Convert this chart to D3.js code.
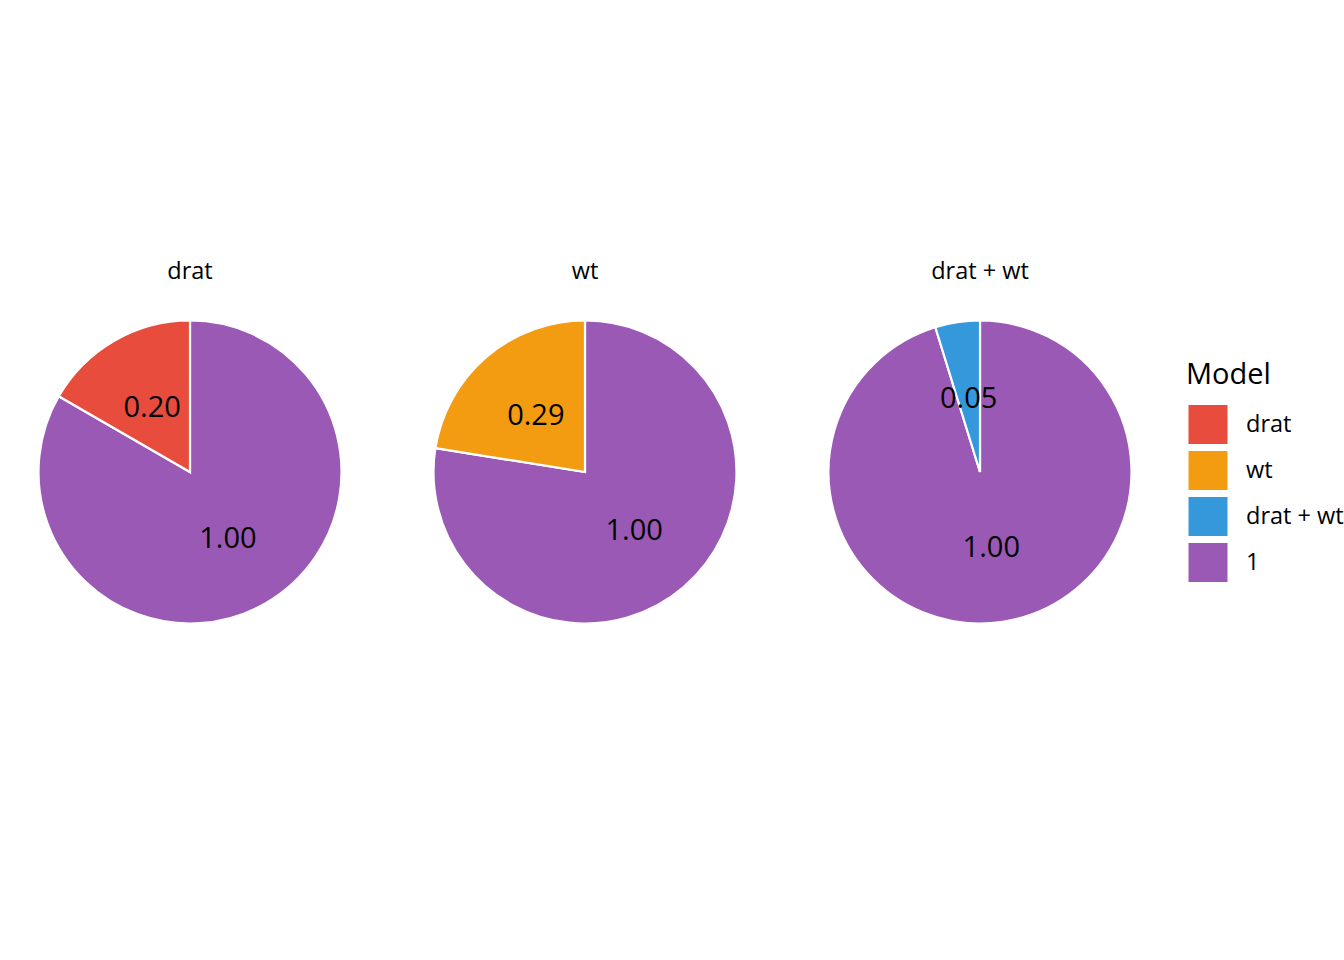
<!DOCTYPE html>
<html>
<head>
<meta charset="utf-8">
<script src="https://cdn.jsdelivr.net/npm/d3@7"></script>
<style>
  body { margin: 0; background: #fff; }
  svg { display: block; font-family: "Open Sans", sans-serif; }
</style>
</head>
<body>
<div id="chart"></div>
<script>
// facet panels and their values
const facets = ["drat", "wt", "drat + wt"];
const modelValues = [0.20, 0.29, 0.05];
const baseValues = [1.00, 1.00, 1.00];

// legend
const legendLabels = ["drat", "wt", "drat + wt", "1"];
const legendColors = ["#E74C3C", "#F39C12", "#3498DB", "#9B59B6"];

const width = 1344, height = 960;
const radius = 151.5;
const cy = 472;

const svg = d3.select("#chart").append("svg")
    .attr("width", width)
    .attr("height", height);

const color = d3.scaleOrdinal().domain(legendLabels).range(legendColors);

// panel centres
const x = d3.scalePoint().domain(facets).range([190, 980]);

const pie = d3.pie()
    .sort(null)
    .value(d => d.value);

const arc = d3.arc().innerRadius(0).outerRadius(radius);

facets.forEach((f, i) => {
    // "1" slice first so the model slice ends at 12 o'clock
    const slices = [
        {key: "1", value: baseValues[i]},
        {key: f, value: modelValues[i]}
    ];

    const g = svg.append("g")
        .attr("transform", "translate(" + x(f) + "," + cy + ")");

    g.selectAll("path")
        .data(pie(slices))
        .enter().append("path")
        .attr("d", arc)
        .attr("fill", d => color(d.data.key))
        .attr("stroke", "#fff")
        .attr("stroke-width", 2.2);

    g.selectAll("text.lab")
        .data(pie(slices))
        .enter().append("text")
        .attr("class", "lab")
        .attr("transform", d => "translate(" + arc.centroid(d) + ")")
        .attr("text-anchor", "middle")
        .attr("dy", "0.36em")
        .style("font-size", "29px")
        .attr("fill", "#000")
        .text(d => d3.format(".2f")(d.data.value));

    svg.append("text")
        .attr("x", x(f))
        .attr("y", 279)
        .attr("text-anchor", "middle")
        .style("font-size", "23.5px")
        .attr("fill", "#000")
        .text(f);
});

// legend
const legend = svg.append("g").attr("transform", "translate(1187,0)");

legend.append("text")
    .attr("x", -1)
    .attr("y", 384)
    .style("font-size", "29px")
    .attr("fill", "#000")
    .text("Model");

const keyY = d3.scaleBand().domain(legendLabels).range([404, 588]).paddingInner(0);

const item = legend.selectAll("g.key")
    .data(legendLabels)
    .enter().append("g")
    .attr("class", "key")
    .attr("transform", d => "translate(0," + keyY(d) + ")");

item.append("rect")
    .attr("x", 1)
    .attr("y", 0.5)
    .attr("width", 40)
    .attr("height", keyY.bandwidth() - 6)
    .attr("fill", d => color(d))
    .attr("stroke", "#fff")
    .attr("stroke-width", 1);

item.append("text")
    .attr("x", 59)
    .attr("y", (keyY.bandwidth() - 6) / 2)
    .attr("dy", "0.36em")
    .style("font-size", "23.5px")
    .attr("fill", "#000")
    .text(d => d);
</script>
</body>
</html>
